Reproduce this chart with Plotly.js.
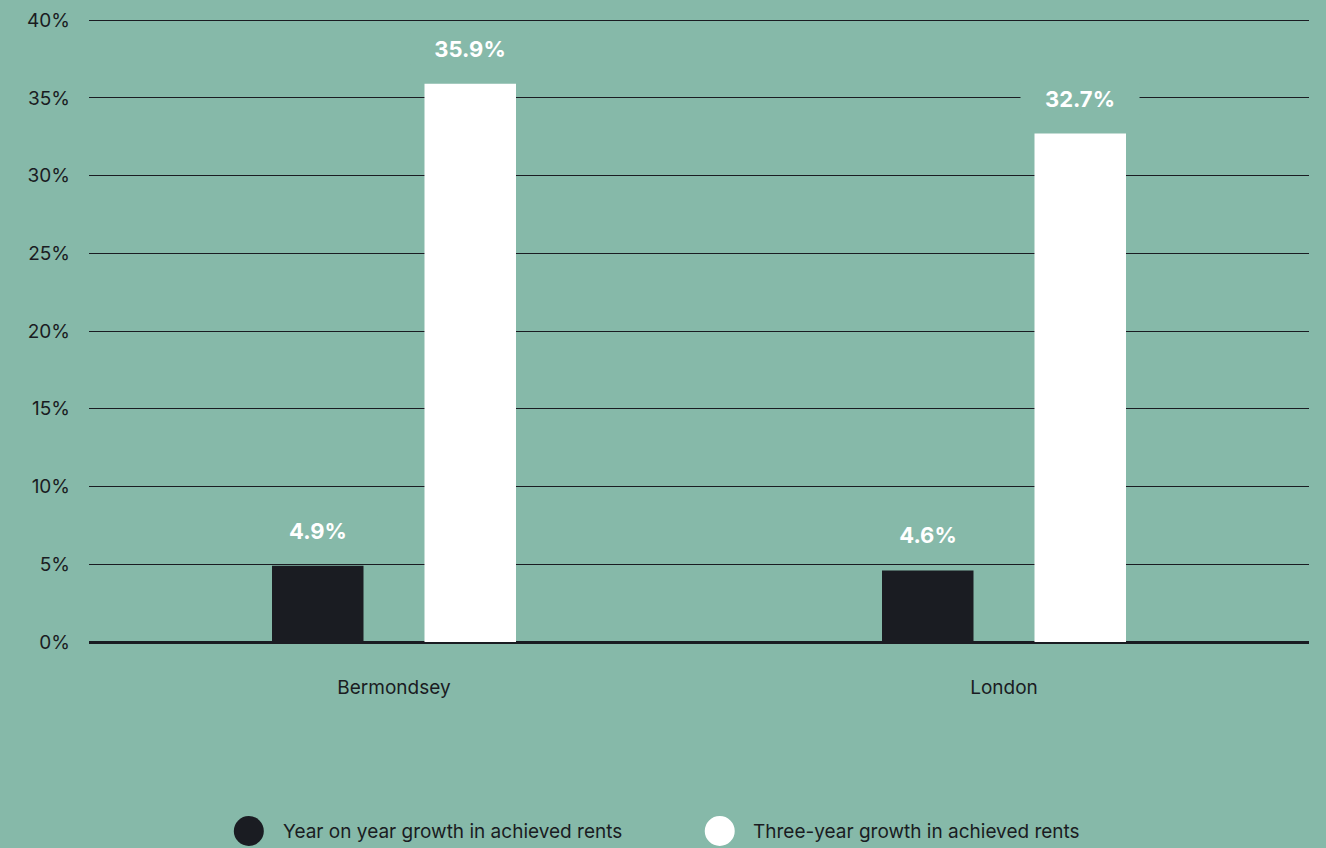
<!DOCTYPE html>
<html>
<head>
<meta charset="utf-8">
<script src="https://cdn.plot.ly/plotly-3.0.1.min.js"></script>
<style>
  html, body { margin: 0; padding: 0; background: #86b9a9; }
  #chart { width: 1326px; height: 848px; }
</style>
</head>
<body>
<div id="chart"></div>
<script>
// Rental growth by area
const areas = ['Bermondsey', 'London'];
const seriesNames = ['Year on year growth in achieved rents', 'Three-year growth in achieved rents'];
const yearOnYear = [4.9, 4.6];
const threeYear = [35.9, 32.7];
const yTicks = [0, 5, 10, 15, 20, 25, 30, 35, 40];

const BG = '#86b9a9';
const INK = '#1a1c22';
const FONT = 'Inter, "Open Sans", sans-serif';

const seriesValues = [yearOnYear, threeYear];
const seriesColors = [INK, '#ffffff'];

const BARGAP = 0.5;
const slot = (1 - BARGAP) / seriesValues.length;

const traces = seriesValues.map((vals, s) => ({
  type: 'bar',
  name: seriesNames[s],
  x: areas,
  y: vals,
  marker: { color: seriesColors[s], line: { width: 0 } },
  showlegend: false,
  hoverinfo: 'x+y'
}));

// value labels above each bar, boxed in the background colour so gridlines break around them
const annotations = [];
seriesValues.forEach((vals, s) => {
  const offset = -((seriesValues.length - 1) / 2) * slot + s * slot;
  vals.forEach((v, i) => {
    annotations.push({
      x: i + offset, y: v, xref: 'x', yref: 'y',
      text: v.toFixed(1) + '%',
      showarrow: false,
      yanchor: 'middle', yshift: 35,
      font: { family: FONT, size: 22, color: '#ffffff', weight: 700 },
      bgcolor: BG, width: 116, height: 28
    });
  });
});

// custom legend: large round swatches with labels
const legendX = [0.131, 0.517];
const legendTextX = [0.1574, 0.5426];
const legendY = -0.3024;
const shapes = [];
seriesNames.forEach((name, s) => {
  shapes.push({
    type: 'circle', xref: 'paper', yref: 'paper',
    xsizemode: 'pixel', ysizemode: 'pixel',
    xanchor: legendX[s], yanchor: legendY,
    x0: -15, x1: 15, y0: -15, y1: 15,
    fillcolor: seriesColors[s], line: { width: 0 }
  });
  annotations.push({
    xref: 'paper', yref: 'paper', x: legendTextX[s], y: legendY,
    xanchor: 'left', yanchor: 'middle', showarrow: false,
    text: name,
    font: { family: FONT, size: 19, color: INK }
  });
});

const layout = {
  width: 1326, height: 848,
  paper_bgcolor: BG, plot_bgcolor: BG,
  margin: { l: 89, r: 17, t: 17, b: 206 },
  barmode: 'group', bargap: BARGAP, bargroupgap: 0.4,
  font: { family: FONT, color: INK },
  xaxis: {
    type: 'category',
    showgrid: false, showline: false, zeroline: false,
    ticks: '', ticklabelstandoff: 32,
    tickfont: { family: FONT, size: 19, color: INK }
  },
  yaxis: {
    // a little headroom above 40 so the top gridline is kept
    range: [0, 40.2],
    tickvals: yTicks,
    ticktext: yTicks.map(t => t + '%'),
    showgrid: true, gridcolor: INK, gridwidth: 1,
    zeroline: true, zerolinecolor: INK, zerolinewidth: 3,
    showline: false, ticks: '', ticklabelstandoff: 18,
    tickfont: { family: FONT, size: 19, color: INK }
  },
  annotations: annotations,
  shapes: shapes,
  showlegend: false
};

Plotly.newPlot('chart', traces, layout, { displayModeBar: false, staticPlot: true });
</script>
</body>
</html>
